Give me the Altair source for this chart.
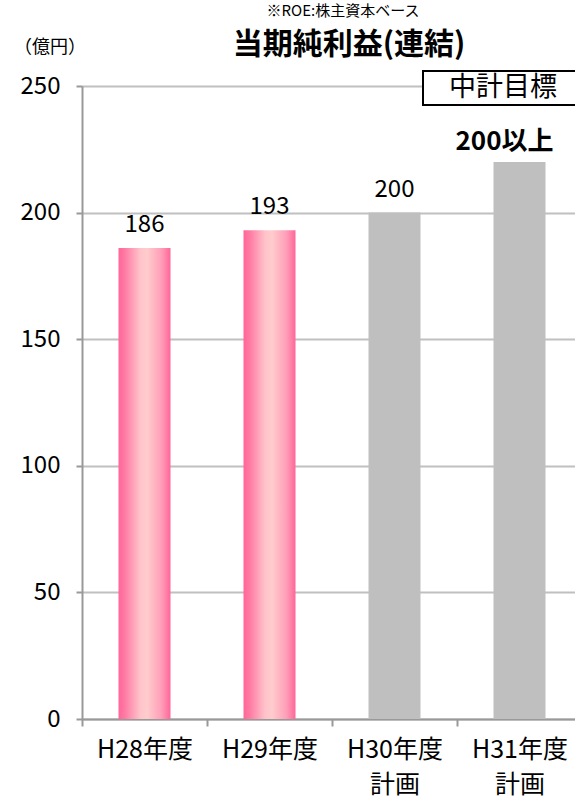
import altair as alt
import pandas as pd

categories = ["H28年度", "H29年度", "H30年度 計画", "H31年度 計画"]
values = [186, 193, 200, 220]
value_labels = ["186", "193", "200", "200以上"]
kinds = ["実績", "実績", "計画", "目標"]
y_ticks = [0, 50, 100, 150, 200, 250]

FONT = "Noto Sans CJK JP"

df = pd.DataFrame({"cat": categories, "val": values, "lab": value_labels, "kind": kinds})

xenc = alt.X(
    "cat:N", sort=categories, title=None,
    scale=alt.Scale(range=[0, 500], paddingInner=0, paddingOuter=0),
    axis=alt.Axis(
        labelAngle=0, labelFont=FONT, labelFontSize=25, labelColor="#000000",
        labelExpr="split(datum.label, ' ')", labelLineHeight=35,
        labelPadding=11, tickBand="extent", tickSize=7, tickColor="#999999",
        tickWidth=2, domainColor="#999999", domainWidth=2, grid=False,
        labelBaseline="top",
    ),
)
yenc = alt.Y(
    "val:Q", title=None,
    scale=alt.Scale(domain=[0, 250], nice=False),
    axis=alt.Axis(
        values=y_ticks, labelFont=FONT, labelFontSize=24, labelColor="#000000",
        labelPadding=16, tickSize=6, tickColor="#999999", tickWidth=2,
        domainColor="#999999", domainWidth=2, grid=True, gridColor="#C0C0C0",
        gridWidth=2,
    ),
)

base = alt.Chart(df)

pink = alt.Gradient(
    gradient="linear", x1=0, x2=1, y1=0, y2=0,
    stops=[
        alt.GradientStop(color="#FF6699", offset=0),
        alt.GradientStop(color="#FF7AA4", offset=0.12),
        alt.GradientStop(color="#FFC4CA", offset=0.42),
        alt.GradientStop(color="#FFCCCC", offset=0.55),
        alt.GradientStop(color="#FF9FB9", offset=0.82),
        alt.GradientStop(color="#FF6699", offset=1),
    ],
)

bars_actual = base.transform_filter(alt.datum.kind == "実績").mark_bar(
    color=pink, size=52
).encode(x=xenc, y=yenc)

bars_plan = base.transform_filter(alt.datum.kind != "実績").mark_bar(
    color="#BFBFBF", size=52
).encode(x=xenc, y=yenc)

labels = base.transform_filter(alt.datum.kind != "目標").mark_text(
    font=FONT, fontSize=24, color="#000000", baseline="middle", dy=-23
).encode(x=alt.X("cat:N", sort=categories), y="val:Q", text="lab:N")

label_goal = base.transform_filter(alt.datum.kind == "目標").mark_text(
    font=FONT, fontSize=26, fontWeight="bold", color="#000000",
    baseline="middle", dy=-20, dx=-15
).encode(x=alt.X("cat:N", sort=categories), y="val:Q", text="lab:N")

one = alt.Data(values=[{}])

title = alt.Chart(one).mark_text(
    font=FONT, fontSize=30, fontWeight="bold", color="#000000", baseline="middle"
).encode(x=alt.value(267), y=alt.value(-41), text=alt.value("当期純利益(連結)"))

unit = alt.Chart(one).mark_text(
    font=FONT, fontSize=18, color="#000000", baseline="middle"
).encode(x=alt.value(-32), y=alt.value(-38), text=alt.value("（億円）"))

note = alt.Chart(one).mark_text(
    font=FONT, fontSize=15, color="#000000", baseline="top"
).encode(x=alt.value(261), y=alt.value(-82), text=alt.value("※ROE:株主資本ベース"))

box = alt.Chart(one).mark_rect(
    fill="#FFFFFF", stroke="#000000", strokeWidth=2
).encode(x=alt.value(341), x2=alt.value(505), y=alt.value(-15), y2=alt.value(19))

box_text = alt.Chart(one).mark_text(
    font=FONT, fontSize=27, color="#000000", baseline="middle"
).encode(x=alt.value(421), y=alt.value(2), text=alt.value("中計目標"))

chart = alt.layer(
    bars_actual, bars_plan, labels, label_goal, title, unit, note, box, box_text
).properties(
    width=493, height=633,
    autosize=alt.AutoSizeParams(type="none"),
    padding={"left": 82, "top": 86, "right": 0, "bottom": 81},
).configure_view(stroke=None).configure(background="#FFFFFF")

chart.save("out.html", embed_options={"renderer": "svg", "actions": False})
